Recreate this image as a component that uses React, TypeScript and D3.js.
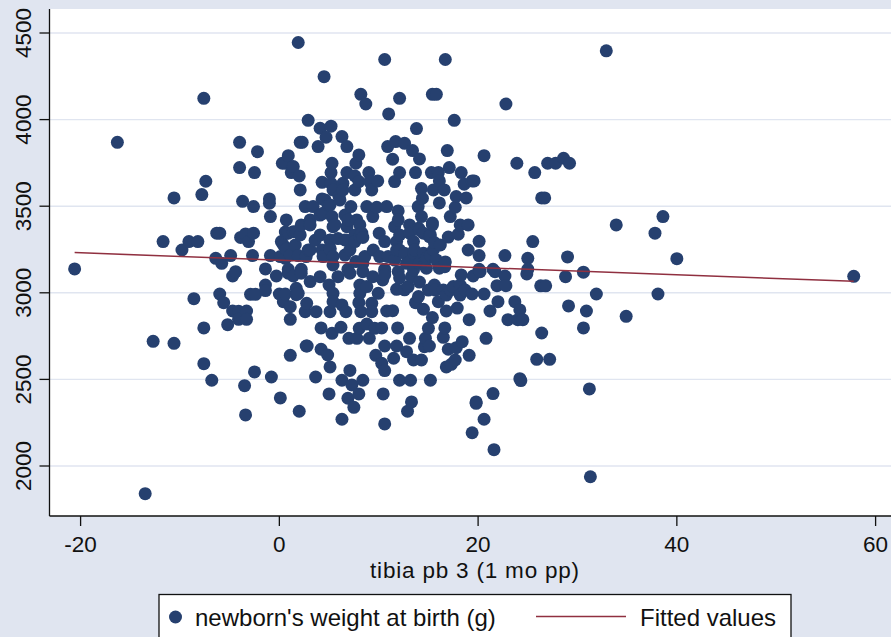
import * as d3 from "d3";

const xTicks = [-20, 0, 20, 40, 60];
const yTicks = [2000, 2500, 3000, 3500, 4000, 4500];
const xTitle = "tibia pb 3 (1 mo pp)";
const scatterLabel = "newborn's weight at birth (g)";
const fitLabel = "Fitted values";

// [tibia pb, birth weight]
const fitted: [number, number][] = [[-20.6, 3232], [57.8, 3066]];
const births: [number, number][] = [
  [-20.6, 3138], [-16.3, 3869], [-13.5, 1840], [-12.7, 2720], [-11.7, 3296], [-10.6, 3548], [-10.6, 2708],
  [-9.8, 3247], [-9.1, 3296], [-8.6, 2966], [-8.2, 3296], [-7.8, 3567], [-7.6, 4123], [-7.6, 2797], [-7.6, 2591],
  [-7.4, 3644], [-6.8, 2495], [-6.4, 3199], [-6.3, 3344], [-6.0, 3344], [-6.0, 2993], [-5.8, 3170], [-5.6, 2943],
  [-5.2, 2816], [-4.9, 3215], [-4.7, 3097], [-4.7, 2895], [-4.4, 3122], [-4.1, 2893], [-4.1, 2847], [-4.0, 3869],
  [-4.0, 3723], [-3.9, 3320], [-3.7, 3528], [-3.5, 2464], [-3.4, 3340], [-3.4, 2295], [-3.3, 2895], [-3.3, 2847],
  [-3.1, 3296], [-2.9, 2991], [-2.7, 3215], [-2.6, 3498], [-2.6, 3344], [-2.5, 3694], [-2.5, 2543], [-2.4, 2991],
  [-2.2, 3815], [-1.4, 3138], [-1.4, 3045], [-1.4, 3013], [-1.0, 3542], [-1.0, 3517], [-0.9, 3440], [-0.9, 3215],
  [-0.8, 2514], [-0.3, 3097], [0, 2993], [0.1, 3209], [0.1, 2393], [0.2, 3296], [0.3, 3748], [0.4, 2949], [0.4, 3276],
  [0.6, 3199], [0.6, 2993], [0.6, 3748], [0.6, 3351], [0.7, 3421], [0.7, 3344], [0.7, 3251], [0.9, 3792], [0.9, 3344],
  [0.9, 3136], [0.9, 3113], [0.9, 3117], [1.1, 3218], [1.1, 2920], [1.1, 2847], [1.1, 2639], [1.2, 3694], [1.4, 3729],
  [1.4, 3097], [1.4, 3353], [1.6, 3276], [1.7, 3353], [1.7, 3026], [1.7, 2989], [1.9, 4445], [1.9, 3215], [1.9, 2997],
  [2.0, 3675], [2.0, 2316], [2.1, 3869], [2.1, 3594], [2.1, 3334], [2.2, 3392], [2.2, 3136], [2.2, 3113], [2.3, 3869],
  [2.6, 3498], [2.6, 2891], [2.7, 3209], [2.7, 2693], [2.75, 2939], [2.8, 2693], [2.9, 3996], [2.9, 3247], [3.1, 3421],
  [3.1, 3392], [3.1, 3247], [3.1, 3065], [3.4, 3498], [3.6, 3303], [3.65, 2514], [3.7, 2891], [3.9, 3844], [4.1, 3950],
  [4.1, 3449], [4.1, 3334], [4.1, 3093], [4.2, 2797], [4.2, 2674], [4.3, 3638], [4.3, 3542], [4.3, 3247], [4.4, 3459],
  [4.4, 3209], [4.5, 4248], [4.6, 3536], [4.7, 3898], [4.86, 2641], [4.9, 3507], [5, 3045], [5, 2416], [5.1, 3507],
  [5.1, 3305], [5.1, 3303], [5.1, 3257], [5.1, 3247], [5.1, 2891], [5.1, 2572], [5.2, 3962], [5.2, 3694], [5.2, 3632],
  [5.3, 3748], [5.3, 3440], [5.3, 2766], [5.4, 3594], [5.4, 3382], [5.4, 3209], [5.4, 3161], [5.4, 2997], [5.4, 2949],
  [5.6, 3392], [5.9, 3313], [5.9, 3093], [6.0, 3556], [6.1, 3536], [6.2, 2801], [6.3, 3902], [6.3, 2930], [6.3, 2495],
  [6.3, 2270], [6.4, 3632], [6.4, 3594], [6.6, 3449], [6.6, 3305], [6.6, 3218], [6.7, 2891], [6.8, 3844], [6.8, 3694],
  [6.8, 3382], [6.8, 3303], [6.9, 3421], [6.9, 3136], [6.9, 2391], [7, 2737], [7.1, 3247], [7.1, 3113], [7.1, 2552],
  [7.2, 3498], [7.3, 2468], [7.5, 2339], [7.6, 3675], [7.6, 3594], [7.6, 3334], [7.6, 3296], [7.7, 3748], [7.7, 3180],
  [7.8, 3421], [7.8, 2737], [8, 3796], [8, 3642], [8, 2943], [8, 2416], [8.04, 2795], [8.1, 3392], [8.1, 3324], [8.1, 3045],
  [8.1, 2997], [8.2, 4146], [8.2, 2891], [8.3, 3344], [8.4, 3320], [8.4, 3170], [8.4, 3122], [8.4, 2495], [8.6, 3209],
  [8.7, 4090], [8.8, 3498], [8.8, 3036], [8.8, 2820], [9, 3694], [9.05, 2737], [9.1, 3642], [9.3, 3594], [9.3, 2939],
  [9.3, 2891], [9.4, 3440], [9.4, 3093], [9.45, 3247], [9.6, 2795], [9.7, 2639], [9.8, 3494], [9.9, 3646], [9.95, 2997],
  [10.05, 3344], [10.1, 3209], [10.3, 2797], [10.3, 2593], [10.4, 3074], [10.45, 2416], [10.6, 4347], [10.6, 3296],
  [10.6, 3136], [10.6, 3122], [10.6, 3103], [10.6, 2693], [10.6, 2551], [10.6, 2243], [10.8, 3498], [10.8, 2895],
  [10.9, 3844], [10.95, 3209], [11, 4033], [11.4, 3771], [11.4, 2897], [11.5, 2622], [11.6, 3642], [11.6, 3382], [11.6, 3189],
  [11.7, 3873], [11.8, 3296], [11.8, 3247], [11.8, 3020], [11.8, 2693], [11.9, 2797], [11.96, 3473], [11.96, 3421],
  [11.96, 3122], [12.1, 4123], [12.1, 3694], [12.1, 3334], [12.1, 3247], [12.1, 3086], [12.1, 2495], [12.6, 3863],
  [12.6, 3228], [12.6, 3017], [12.8, 3170], [12.8, 2660], [12.9, 2316], [12.96, 3036], [13.1, 3392], [13.1, 3344],
  [13.1, 3178], [13.1, 2737], [13.2, 2495], [13.3, 3093], [13.3, 2370], [13.4, 3821], [13.5, 3296], [13.5, 3228], [13.5, 3132],
  [13.5, 2612], [13.6, 3247], [13.7, 3694], [13.7, 2943], [13.8, 3948], [13.97, 3498], [14, 3373], [14, 2978], [14.1, 3773],
  [14.1, 3363], [14.1, 3170], [14.1, 3062], [14.3, 3602], [14.3, 3440], [14.3, 2612], [14.4, 3546], [14.5, 3344], [14.5, 3228],
  [14.5, 2905], [14.6, 3161], [14.6, 2689], [14.7, 2737], [14.8, 3199], [14.8, 3142], [15, 3016], [15, 2795], [15.1, 3324],
  [15.1, 2693], [15.2, 3334], [15.2, 3218], [15.2, 2495], [15.3, 3694], [15.4, 4146], [15.4, 3403], [15.4, 3392], [15.4, 2857],
  [15.5, 3594], [15.5, 3247], [15.6, 3290], [15.6, 3045], [15.7, 3016], [15.8, 4146], [15.8, 3190], [16, 3694], [16, 2949],
  [16.1, 3646], [16.1, 3519], [16.1, 3142], [16.2, 3276], [16.5, 3016], [16.5, 2743], [16.6, 3594], [16.65, 3151], [16.65, 2797],
  [16.7, 4347], [16.7, 3178], [16.8, 2987], [16.8, 2895], [16.8, 2572], [16.9, 3821], [17, 3322], [17, 2674], [17.1, 3723],
  [17.2, 3440], [17.2, 3016], [17.3, 2587], [17.5, 3036], [17.6, 3996], [17.7, 3494], [17.7, 2612], [17.8, 3556], [17.8, 2683],
  [17.9, 2912], [18, 3338], [18.2, 3392], [18.2, 3045], [18.2, 2987], [18.3, 3694], [18.3, 3103], [18.4, 2718], [18.6, 3627],
  [18.7, 3016], [18.8, 3548], [19, 3392], [19, 3247], [19.1, 2845], [19.1, 2639], [19.4, 3646], [19.4, 2993], [19.4, 2192],
  [19.5, 3097], [19.6, 3646], [19.8, 2370], [19.8, 2362], [20.1, 3297], [20.1, 3215], [20.1, 3136], [20.2, 3122], [20.6, 3792],
  [20.6, 2993], [20.6, 2270], [20.8, 2737], [21.2, 2895], [21.5, 3136], [21.5, 2418], [21.6, 2094], [21.7, 3122], [21.9, 3041],
  [22, 2949], [22.7, 3215], [22.7, 3097], [22.8, 4090], [22.8, 3041], [23, 2845], [23.7, 2949], [23.9, 3748], [24, 2845],
  [24.2, 2901], [24.2, 2504], [24.3, 2493], [24.5, 2845], [24.9, 3109], [25, 3199], [25, 3136], [25.5, 3296], [25.7, 3694],
  [25.9, 2616], [26.3, 3040], [26.4, 3548], [26.4, 2768], [26.7, 3548], [26.8, 3040], [27, 3748], [27.2, 2616], [27.8, 3748],
  [28.6, 3777], [28.8, 3093], [29, 3207], [29.1, 2924], [29.2, 3748], [30.6, 3119], [30.6, 2797], [30.9, 2895], [31.2, 2445],
  [31.3, 1938], [31.9, 2993], [32.9, 4397], [33.9, 3392], [34.9, 2864], [37.8, 3344], [38.1, 2993], [38.6, 3440], [40, 3197],
  [57.8, 3095],
];

const bg = "#e0e5f0";
const navy = "#26406f";
const maroon = "#903040";
const ink = "#111";
const font = "'Liberation Sans', Arial, sans-serif";

export default function App() {
  const width = 891;
  const height = 637;
  const plot = { left: 49.5, right: 891, top: 9, bottom: 516 };

  const x = d3.scaleLinear().domain([-20, 60]).range([80.6, 875.6]);
  const y = d3.scaleLinear().domain([2000, 4500]).range([466, 33]);
  const fitLine = d3.line<[number, number]>().x((d) => x(d[0])).y((d) => y(d[1]));

  return (
    <svg
      width={width}
      height={height}
      viewBox={`0 0 ${width} ${height}`}
      style={{ position: "fixed", left: 0, top: 0, display: "block" }}
      fontFamily={font}
    >
      <rect width={width} height={height} fill={bg} />
      <rect x={plot.left} y={plot.top} width={plot.right - plot.left} height={plot.bottom - plot.top} fill="#fff" />

      {yTicks.map((tick) => (
        <line key={`grid-${tick}`} x1={plot.left} x2={plot.right} y1={y(tick)} y2={y(tick)} stroke={bg} strokeWidth={1.4} />
      ))}

      {births.map((d, i) => (
        <circle key={i} cx={x(d[0])} cy={y(d[1])} r={6.5} fill={navy} />
      ))}
      <path d={fitLine(fitted) ?? ""} fill="none" stroke={maroon} strokeWidth={1.5} />

      <line x1={plot.left} x2={plot.left} y1={plot.top} y2={plot.bottom} stroke={ink} strokeWidth={1.3} />
      <line x1={plot.left} x2={plot.right} y1={plot.bottom} y2={plot.bottom} stroke={ink} strokeWidth={1.3} />

      {yTicks.map((tick) => (
        <g key={`y-${tick}`} transform={`translate(${plot.left},${y(tick)})`}>
          <line x1={-10} x2={0} stroke={ink} strokeWidth={1.3} />
          <text transform="translate(-18.5,0) rotate(-90)" textAnchor="middle" fontSize={22.5} fill={ink}>
            {tick}
          </text>
        </g>
      ))}

      {xTicks.map((tick) => (
        <g key={`x-${tick}`} transform={`translate(${x(tick)},${plot.bottom})`}>
          <line y1={0} y2={10} stroke={ink} strokeWidth={1.3} />
          <text y={36} textAnchor="middle" fontSize={22.5} fill={ink}>
            {tick}
          </text>
        </g>
      ))}

      <text x={475} y={577.5} textAnchor="middle" fontSize={22.5} letterSpacing={0.8} fill={ink}>
        {xTitle}
      </text>

      <rect x={159} y={594.5} width={632} height={60} fill="#fff" stroke={ink} strokeWidth={1.3} />
      <circle cx={175.5} cy={617} r={6.5} fill={navy} />
      <text x={195} y={626} fontSize={24} fill={ink}>
        {scatterLabel}
      </text>
      <line x1={536} x2={626} y1={616.5} y2={616.5} stroke={maroon} strokeWidth={1.5} />
      <text x={640} y={626} fontSize={24} fill={ink}>
        {fitLabel}
      </text>
    </svg>
  );
}
